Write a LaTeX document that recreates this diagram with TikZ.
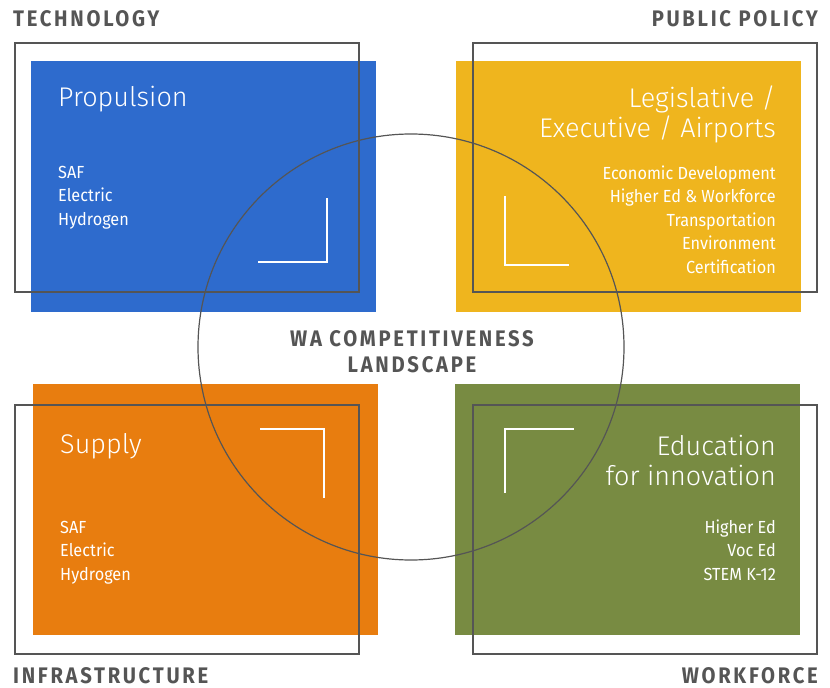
\documentclass[tikz,border=0pt]{standalone}
\usepackage{fontspec}
\setmainfont{Fira Sans}
\newfontfamily\lightfont{Fira Sans Light}
\newfontfamily\headfont[LetterSpace=12,FakeStretch=0.9]{Fira Sans}
\newfontfamily\itemfont[FakeStretch=0.93]{Fira Sans}
\usepackage{xcolor}

\definecolor{techblue}{HTML}{2E6BCD}
\definecolor{policyyellow}{HTML}{EFB51E}
\definecolor{infraorange}{HTML}{E87D0F}
\definecolor{workgreen}{HTML}{788B42}
\definecolor{linegray}{HTML}{555555}

\begin{document}
\begin{tikzpicture}[
    x=1pt, y=-1pt,
    tile/.style = {anchor=north west, inner sep=0pt, minimum width=345pt, minimum height=251pt},
    frame/.style = {draw=linegray, line width=1.5pt, anchor=north west, inner sep=0pt,
                    minimum width=344pt, minimum height=249pt},
    heading/.style = {text=linegray, inner sep=0pt, font=\headfont\bfseries\fontsize{22.5}{26}\selectfont},
    title/.style = {text=white, inner sep=0pt, font=\lightfont\fontsize{27}{30}\selectfont},
    items/.style = {text=white, inner sep=0pt, font=\itemfont\fontsize{17.5}{23.5}\selectfont},
    corner/.style = {draw=white, line width=1.3pt}
  ]

  \useasboundingbox (0,0) rectangle (830,688);

  % coloured tiles
  \node[tile, fill=techblue] (tech) at (31,61) {};
  \node[tile, fill=policyyellow] (policy) at (456,61) {};
  \node[tile, fill=infraorange] (infra) at (33,384) {};
  \node[tile, fill=workgreen] (work) at (455,384) {};

  % offset outlines
  \node[frame] (techframe) at (14,42) {};
  \node[frame] (policyframe) at (472,42) {};
  \node[frame] (infraframe) at (14,404) {};
  \node[frame] (workframe) at (472,404) {};

  % white corner marks
  \draw[corner] (327,198) -- (327,262) -- (258,262);
  \draw[corner] (505,196) -- (505,265) -- (569,265);
  \draw[corner] (260,429) -- (324,429) -- (324,498);
  \draw[corner] (505,493) -- (505,429) -- (574,429);

  % big circle in the middle
  \node[draw=linegray, line width=1.2pt, circle, inner sep=0pt, minimum size=426pt] (landscape) at (411,347) {};
  \node[heading, align=center, anchor=base] (landtext) at (412,372) {WA COMPETITIVENESS\\LANDSCAPE};

  % quadrant headings
  \node[heading, anchor=base west] (techhead) at (13,27) {TECHNOLOGY};
  \node[heading, anchor=base east] (policyhead) at (818,27) {PUBLIC POLICY};
  \node[heading, anchor=base west] (infrahead) at (13,683) {INFRASTRUCTURE};
  \node[heading, anchor=base east] (workhead) at (818,683) {WORKFORCE};

  % tile texts (multi-line nodes sit on their last baseline)
  \node[title, anchor=base west] (techtitle) at (58,106) {Propulsion};
  \node[items, anchor=base west, align=left] (techlist) at (58,225) {SAF\\Electric\\Hydrogen};

  \node[title, anchor=base east, align=right] (policytitle) at (776,137) {Legislative /\\Executive / Airports};
  \node[items, anchor=base east, align=right] (policylist) at (776,273)
    {Economic Development\\Higher Ed \& Workforce\\Transportation\\Environment\\Certification};

  \node[title, anchor=base west] (infratitle) at (60,453) {Supply};
  \node[items, anchor=base west, align=left] (infralist) at (60,580) {SAF\\Electric\\Hydrogen};

  \node[title, anchor=base east, align=right] (worktitle) at (776,485) {Education\\for innovation};
  \node[items, anchor=base east, align=right] (worklist) at (776,580) {Higher Ed\\Voc Ed\\STEM K-12};
\end{tikzpicture}
\end{document}
